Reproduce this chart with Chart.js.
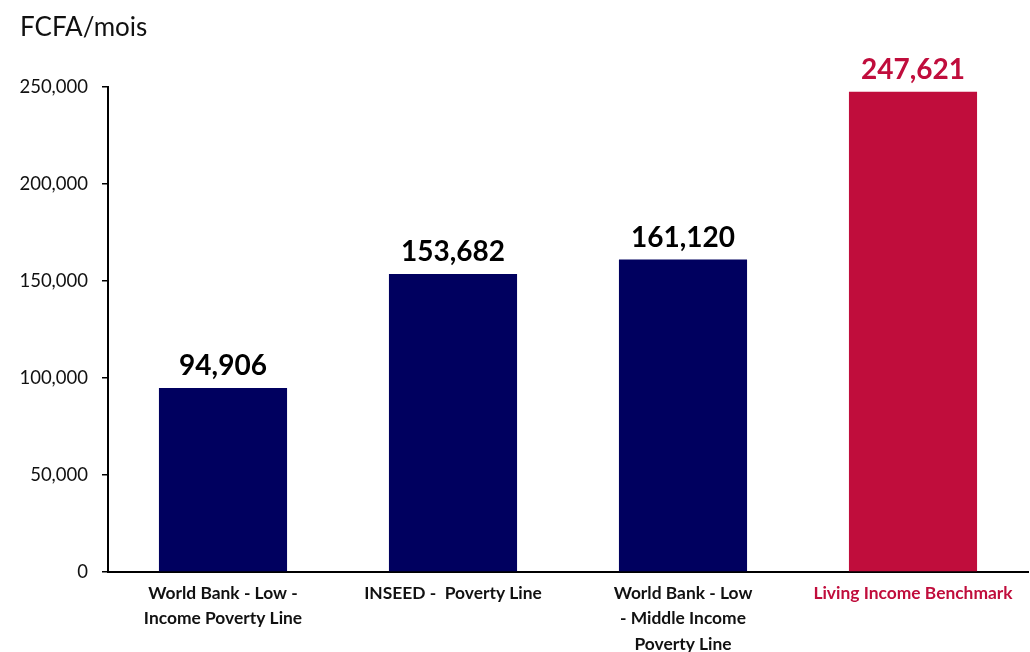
<!DOCTYPE html>
<html lang="en">
<head>
    <meta charset="UTF-8">
    <title>FCFA/mois</title>
    <script src="https://cdn.jsdelivr.net/npm/chart.js"></script>
    <style>
        body { margin: 0; background: #fff; }
        #wrap { width: 1030px; height: 652px; }
    </style>
</head>
<body>
    <div id="wrap"><canvas id="incomeChart"></canvas></div>
    <script>
        const categories = [
            ['World Bank - Low -', 'Income Poverty Line'],
            'INSEED -  Poverty Line',
            ['World Bank - Low', '- Middle Income', 'Poverty Line'],
            'Living Income Benchmark'
        ];
        const values = [94906, 153682, 161120, 247621];
        const barColors = ['#00005f', '#00005f', '#00005f', '#c00d3c'];
        const yTicks = [0, 50000, 100000, 150000, 200000, 250000];

        const red = '#c00d3c';
        const fontFamily = 'Lato, "Liberation Sans", sans-serif';

        // draw the value on top of each bar
        const valueLabels = {
            id: 'valueLabels',
            afterDatasetsDraw(chart) {
                const ctx = chart.ctx;
                const meta = chart.getDatasetMeta(0);
                ctx.save();
                ctx.font = 'bold 28px ' + fontFamily;
                ctx.textAlign = 'center';
                ctx.textBaseline = 'bottom';
                meta.data.forEach((bar, i) => {
                    ctx.fillStyle = i === 3 ? red : '#000';
                    ctx.fillText(values[i].toLocaleString('en-US'), bar.x, bar.y - 8);
                });
                ctx.restore();
            }
        };

        new Chart(document.getElementById('incomeChart'), {
            type: 'bar',
            data: {
                labels: categories,
                datasets: [{
                    data: values,
                    backgroundColor: barColors,
                    barPercentage: 0.557,
                    categoryPercentage: 1.0
                }]
            },
            options: {
                responsive: true,
                maintainAspectRatio: false,
                animation: false,
                layout: { padding: { left: 20, right: 2, top: 0, bottom: 0 } },
                plugins: {
                    legend: { display: false },
                    tooltip: { enabled: false },
                    title: {
                        display: true,
                        text: 'FCFA/mois',
                        align: 'start',
                        color: '#111',
                        font: { family: fontFamily, size: 26, weight: 'normal' },
                        padding: { top: 12, bottom: 44 }
                    }
                },
                scales: {
                    y: {
                        min: 0,
                        max: 250000,
                        afterFit(scale) { scale.width = 88; },
                        afterBuildTicks(scale) { scale.ticks = yTicks.map(v => ({ value: v })); },
                        border: { display: true, color: '#000', width: 2 },
                        grid: { drawOnChartArea: false, drawTicks: true, tickLength: 6, color: '#000', lineWidth: 1.5 },
                        ticks: {
                            color: '#111',
                            padding: 14,
                            font: { family: fontFamily, size: 18.5 },
                            callback: v => v.toLocaleString('en-US')
                        }
                    },
                    x: {
                        afterFit(scale) { scale.height = 80; },
                        border: { display: true, color: '#000', width: 2 },
                        grid: { display: false },
                        ticks: {
                            autoSkip: false,
                            maxRotation: 0,
                            padding: 1,
                            color: ctx => ctx.index === 3 ? red : '#111',
                            font: { family: fontFamily, size: 17.4, weight: 'bold', lineHeight: 1.45 }
                        }
                    }
                }
            },
            plugins: [valueLabels]
        });
    </script>
</body>
</html>
